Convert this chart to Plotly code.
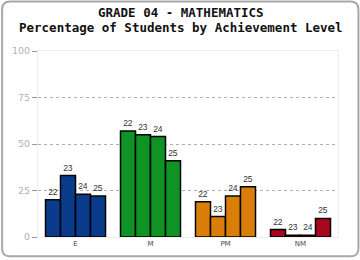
import plotly.graph_objects as go

categories = ["E", "M", "PM", "NM"]
years = ["22", "23", "24", "25"]
values_22 = [20, 57, 19, 4]
values_23 = [33, 55, 11, 1]
values_24 = [23, 54, 22, 1]
values_25 = [22, 41, 27, 10]
series = [values_22, values_23, values_24, values_25]
cat_colors = ["#0b3c8c", "#0f9324", "#d97f09", "#a6091f"]
y_ticks = [0, 25, 50, 75, 100]
title_lines = ["GRADE 04 - MATHEMATICS", "Percentage of Students by Achievement Level"]

W, H = 360, 260
L, R, T, B = 37, 22, 51, 21
pw, ph = W - L - R, H - T - B

fig = go.Figure()
for yr, vals in zip(years, series):
    fig.add_trace(go.Bar(
        x=categories, y=vals, name=yr,
        marker=dict(color=cat_colors, line=dict(color="#000000", width=1.5)),
        text=[yr] * len(vals), textposition="outside",
        textfont=dict(family="Liberation Sans", size=8.5, color="#333333"),
        cliponaxis=False, showlegend=False,
    ))

def px(x):
    return (x - L) / pw
def py(y):
    return (H - B - y) / ph

x0, x1, y0, y1, r = 1, 358.5, 1, 258.5, 8
path = (f"M {px(x0+r)},{py(y0)} L {px(x1-r)},{py(y0)} Q {px(x1)},{py(y0)} {px(x1)},{py(y0+r)} "
        f"L {px(x1)},{py(y1-r)} Q {px(x1)},{py(y1)} {px(x1-r)},{py(y1)} "
        f"L {px(x0+r)},{py(y1)} Q {px(x0)},{py(y1)} {px(x0)},{py(y1-r)} "
        f"L {px(x0)},{py(y0+r)} Q {px(x0)},{py(y0)} {px(x0+r)},{py(y0)} Z")
fig.add_shape(type="path", xref="paper", yref="paper", path=path,
              line=dict(color="#a8a8a8", width=2), layer="below")

for line, yc in zip(title_lines, [12.5, 27]):
    fig.add_annotation(
        text=f"<b>{line}</b>", xref="paper", yref="paper",
        x=px(180), y=py(yc), xanchor="center", yanchor="middle",
        showarrow=False, borderpad=0,
        font=dict(family="DejaVu Sans Mono", size=12.5, color="#111111"),
    )

fig.update_layout(
    width=W, height=H,
    margin=dict(l=L, r=R, t=T, b=B),
    paper_bgcolor="white", plot_bgcolor="white",
    barmode="group", bargap=0.2, bargroupgap=0,
    xaxis=dict(
        showgrid=False, showline=True, mirror=True, linecolor="#eeeeee", linewidth=1,
        tickfont=dict(family="DejaVu Sans", size=7, color="#444444"),
        ticks="", fixedrange=True,
    ),
    yaxis=dict(
        range=[0, 100], tickvals=y_ticks, ticktext=[str(v) for v in y_ticks],
        showgrid=True, gridcolor="#b0b0b0", griddash="dot", gridwidth=1,
        showline=True, mirror=True, linecolor="#eeeeee", linewidth=1,
        ticks="outside", ticklen=5, tickcolor="#999999",
        tickfont=dict(family="DejaVu Sans", size=9.5, color="#b0b0b0"),
        zeroline=False, fixedrange=True,
    ),
)

fig.write_html("out.html")
